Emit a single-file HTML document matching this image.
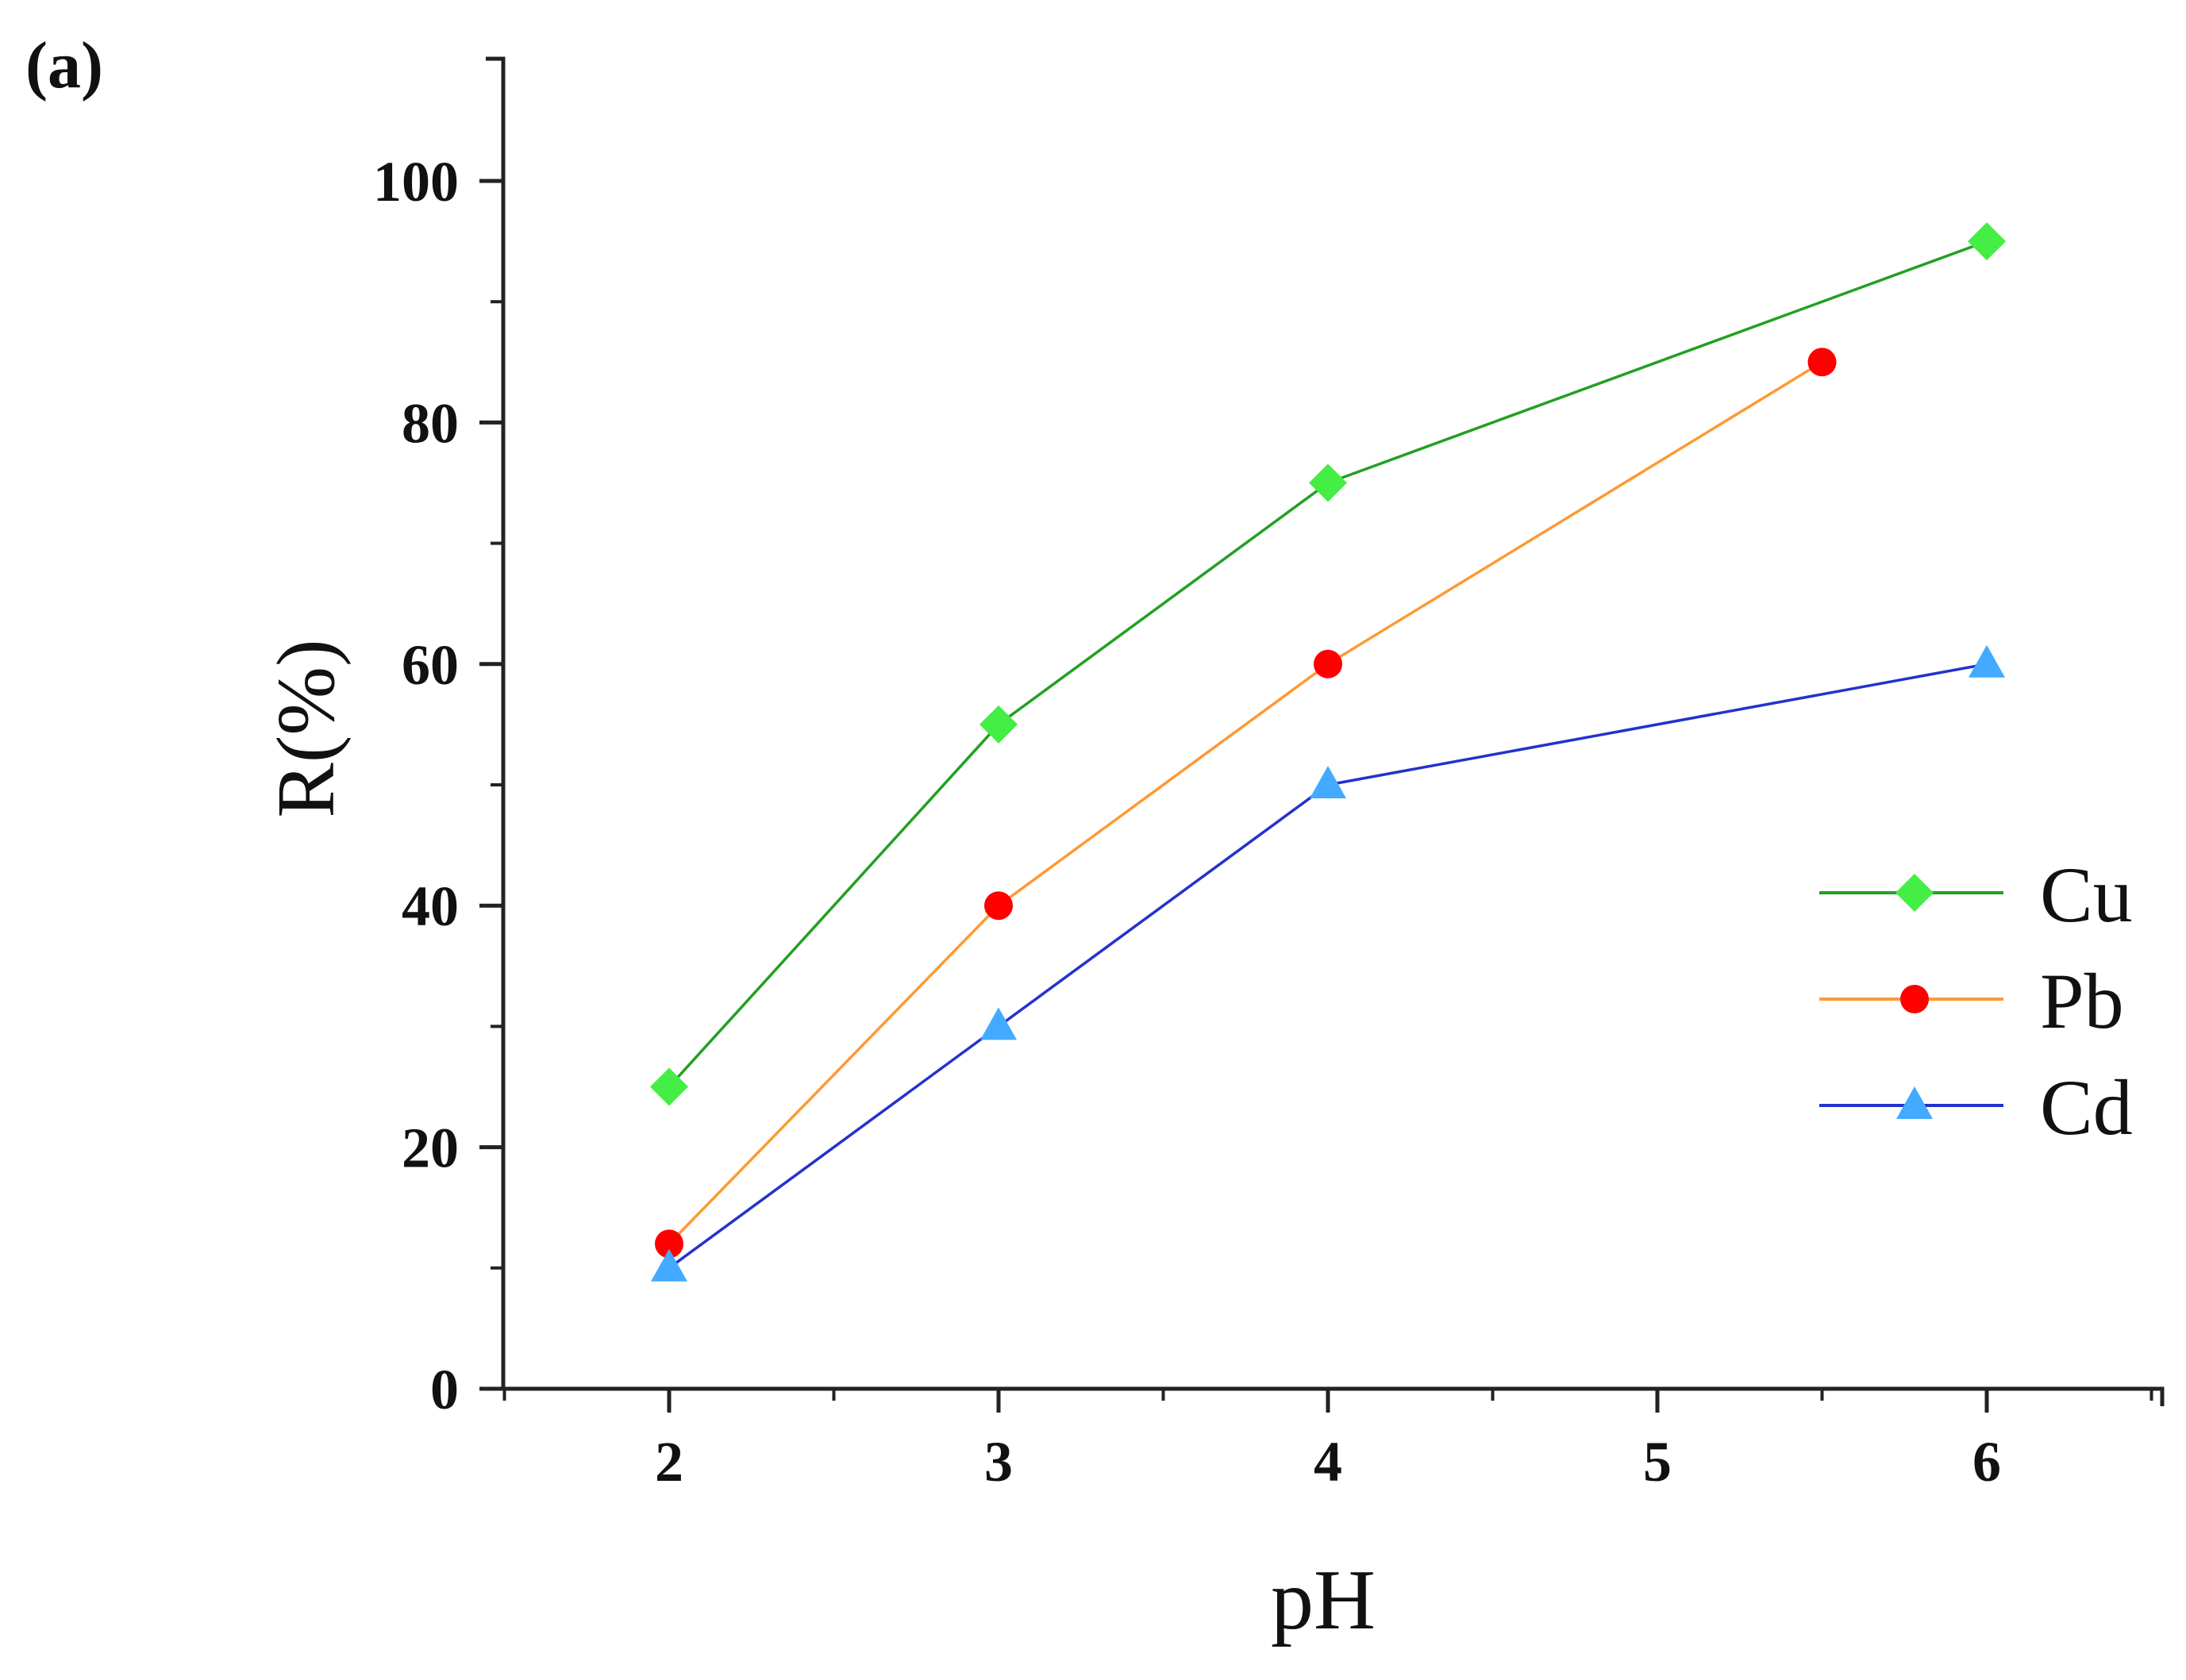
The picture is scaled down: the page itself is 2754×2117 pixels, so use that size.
<!DOCTYPE html>
<html><head><meta charset="utf-8"><style>
html,body{margin:0;padding:0;background:#fff;}
svg{display:block;}
text{font-family:"Liberation Serif",serif;fill:#111;}
</style></head><body>
<svg id="chart" width="2754" height="2117" viewBox="0 0 2754 2117">
<text x="32" y="110" font-size="84" font-weight="bold">(a)</text>
<g id="axes"></g>
<g id="series"></g>
<g id="legend"></g>
<text x="1667" y="2052" font-size="108" text-anchor="middle">pH</text>
<text transform="translate(420,918) rotate(-90)" font-size="104" text-anchor="middle">R(%)</text>
</svg>
<script>
const xTicks = [2,3,4,5,6];
const yTicks = [0,20,40,60,80,100];
const cuX = [2,3,4,6];
const cuY = [25,55,75,95];
const pbX = [2,3,4,5.5];
const pbY = [12,40,60,85];
const cdX = [2,3,4,6];
const cdY = [10,30,50,60];
const seriesNames = ['Cu','Pb','Cd'];

const NS='http://www.w3.org/2000/svg';
function sx(v){return 843+(v-2)*415;}
function sy(v){return 1750-v*15.22;}
function mk(tag,attrs,parent){const e=document.createElementNS(NS,tag);for(const k in attrs)e.setAttribute(k,attrs[k]);parent.appendChild(e);return e;}
const axes=document.getElementById('axes');
let e;
e=mk('path',{d:'M612 74 L634 74 L634 1750 M604 1750 L2724 1750 L2724 1772',stroke:'#222','stroke-width':5,fill:'none'},axes);


xTicks.forEach(t=>{
  let l=mk('line',{x1:sx(t),x2:sx(t),y1:1750,y2:1780,stroke:'#222','stroke-width':5},axes);
  
  
  let m=mk('line',{x1:sx(t+0.5),x2:sx(t+0.5),y1:1750,y2:1765,stroke:'#222','stroke-width':4},axes);
  
  
  let tx=mk('text',{x:sx(t),y:1866,'font-size':72,'font-weight':'bold','text-anchor':'middle'},axes);
  tx.textContent=t;
  
  
});
let m0=mk('line',{x1:sx(1.5),x2:sx(1.5),y1:1750,y2:1765,stroke:'#222','stroke-width':4},axes);


yTicks.forEach(t=>{
  let l=mk('line',{x1:604,x2:634,y1:sy(t),y2:sy(t),stroke:'#222','stroke-width':5},axes);
  
  
  if(t<100){let m=mk('line',{x1:618,x2:634,y1:sy(t+10),y2:sy(t+10),stroke:'#222','stroke-width':4},axes);
  
  }
  let tx=mk('text',{x:578,y:sy(t)+25,'font-size':72,'font-weight':'bold','text-anchor':'end'},axes);
  tx.textContent=t;
  
  
});
const styles=[{line:'#22a022',fill:'#44ee44',shape:'diamond'},{line:'#ff9933',fill:'#ff0000',shape:'circle'},{line:'#2233cc',fill:'#44aaff',shape:'triangle'}];
function marker(shape,x,y,fill,parent){
  let el;
  if(shape==='diamond') el=mk('polygon',{points:`${x},${y-24} ${x+24},${y} ${x},${y+24} ${x-24},${y}`,fill:fill},parent);
  else if(shape==='circle') el=mk('circle',{cx:x,cy:y,r:18,fill:fill},parent);
  else el=mk('polygon',{points:`${x},${y-24} ${x+23},${y+17} ${x-23},${y+17}`,fill:fill},parent);
  return el;
}
const sg=document.getElementById('series');
[[cuX,cuY],[pbX,pbY],[cdX,cdY]].forEach((d,i)=>{
  const st=styles[i];
  let p=mk('polyline',{points:d[0].map((x,j)=>sx(x)+','+sy(d[1][j])).join(' '),stroke:st.line,'stroke-width':3.5,fill:'none'},sg);
  
  
  d[0].forEach((x,j)=>{
    let m=marker(st.shape,sx(x),sy(d[1][j]),st.fill,sg);
    
    
  });
});
const lg=document.getElementById('legend');
const ly=[1125,1259,1393];
seriesNames.forEach((n,i)=>{
  const st=styles[i];
  let l=mk('line',{x1:2292,x2:2524,y1:ly[i],y2:ly[i],stroke:st.line,'stroke-width':4},lg);
  
  
  let m=marker(st.shape,2412,ly[i],st.fill,lg);
  
  
  let t=mk('text',{x:2570,y:ly[i]+36,'font-size':100},lg);
  t.textContent=n;
  
  
});
</script>
</body></html>
